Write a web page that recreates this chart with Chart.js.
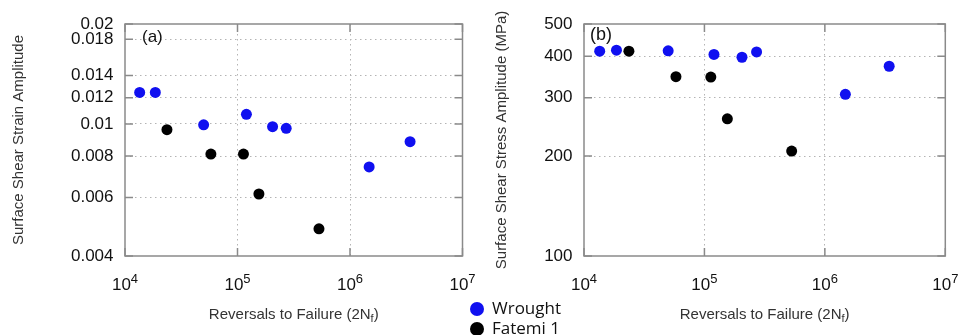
<!DOCTYPE html>
<html>
<head>
<meta charset="utf-8">
<script src="https://cdn.jsdelivr.net/npm/chart.js@4/dist/chart.umd.min.js"></script>
<style>
  html, body { margin: 0; padding: 0; background: #fff; }
  #wrap { position: relative; width: 960px; height: 335px; overflow: hidden; }
  .panel { position: absolute; top: 0; }
  .leg { position: absolute; left: 470px; font: 17px "Open Sans", Arial, sans-serif; color: #111; white-space: nowrap; }
  .leg i { display: inline-block; width: 14px; height: 14px; border-radius: 50%; vertical-align: middle; margin-right: 8px; }
</style>
</head>
<body>
<div id="wrap">
  <canvas id="strainChart" class="panel" style="left:0" width="480" height="335"></canvas>
  <canvas id="stressChart" class="panel" style="left:480px" width="480" height="335"></canvas>
  <div class="leg" style="top:296px"><i style="background:#1010f0"></i>Wrought</div>
  <div class="leg" style="top:316px"><i style="background:#000"></i>Fatemi 1</div>
</div>
<script>
// reversals to failure, same specimens in both panels
const cyclesWrought = [13500, 18600, 50000, 120000, 205000, 271000, 1480000, 3420000];
const cyclesFatemi = [23600, 58000, 113000, 155000, 530000];

// (a) surface shear strain amplitude
const strainWrought = [0.01244, 0.01244, 0.00994, 0.01069, 0.00981, 0.0097, 0.00742, 0.00884];
const strainFatemi = [0.00961, 0.00811, 0.00811, 0.00615, 0.00483];

// (b) surface shear stress amplitude, MPa
const stressWrought = [414, 417, 415, 405, 397, 412, 307, 373];
const stressFatemi = [414, 347, 346, 259, 207];

const xTicks = [1e4, 1e5, 1e6, 1e7];
const strainTicks = [0.004, 0.006, 0.008, 0.01, 0.012, 0.014, 0.018, 0.02];
const stressTicks = [100, 200, 300, 400, 500];

const FONT = '"Liberation Sans", Arial, sans-serif';
const BLUE = '#1010f0';

function toPoints(xs, ys) {
  return xs.map((x, i) => ({ x: x, y: ys[i] }));
}

function edgeColor(lo, hi) {
  return (c) => (c.tick && (c.tick.value === lo || c.tick.value === hi)) ? 'rgba(0,0,0,0)' : '#b4b4b4';
}

// frame, inner tick marks, x labels with exponents, x title with subscript, panel tag
const decorPlugin = {
  id: 'decor',
  beforeDatasetsDraw(chart) {
    const { ctx, chartArea: a, scales } = chart;
    ctx.save();
    ctx.strokeStyle = '#8a8a8a';
    ctx.lineWidth = 1.5;
    ctx.strokeRect(a.left, a.top, a.right - a.left, a.bottom - a.top);
    ctx.beginPath();
    scales.y.ticks.forEach(t => {
      const y = scales.y.getPixelForValue(t.value);
      ctx.moveTo(a.left, y); ctx.lineTo(a.left + 8, y);
      ctx.moveTo(a.right, y); ctx.lineTo(a.right - 8, y);
    });
    scales.x.ticks.forEach(t => {
      const x = scales.x.getPixelForValue(t.value);
      ctx.moveTo(x, a.top); ctx.lineTo(x, a.top + 8);
      ctx.moveTo(x, a.bottom); ctx.lineTo(x, a.bottom - 8);
    });
    ctx.stroke();
    ctx.restore();
  },
  afterDraw(chart) {
    const { ctx, chartArea: a, scales } = chart;
    const o = chart.options.plugins.decor;
    ctx.save();
    ctx.fillStyle = '#111';
    ctx.textAlign = 'left';
    ctx.textBaseline = 'alphabetic';
    scales.x.ticks.forEach(t => {
      const x = scales.x.getPixelForValue(t.value);
      const exp = String(Math.round(Math.log10(t.value)));
      ctx.font = '17px ' + FONT;
      const w1 = ctx.measureText('10').width;
      ctx.font = '13px ' + FONT;
      const w2 = ctx.measureText(exp).width;
      const x0 = x - (w1 + w2) / 2;
      ctx.font = '17px ' + FONT;
      ctx.fillText('10', x0, 289.5);
      ctx.font = '13px ' + FONT;
      ctx.fillText(exp, x0 + w1, 283);
    });

    // x title: Reversals to Failure (2Nf)
    ctx.fillStyle = '#333';
    const main = 'Reversals to Failure (2N';
    ctx.font = '15px ' + FONT;
    const wm = ctx.measureText(main).width;
    const wp = ctx.measureText(')').width;
    ctx.font = '11px ' + FONT;
    const ws = ctx.measureText('f').width;
    let tx = (a.left + a.right) / 2 - (wm + ws + wp) / 2;
    ctx.font = '15px ' + FONT;
    ctx.fillText(main, tx, 319);
    ctx.font = '11px ' + FONT;
    ctx.fillText('f', tx + wm, 322);
    ctx.font = '15px ' + FONT;
    ctx.fillText(')', tx + wm + ws, 319);

    // panel tag
    ctx.fillStyle = '#111';
    ctx.font = o.tagSize + 'px ' + FONT;
    ctx.textBaseline = 'middle';
    ctx.fillText(o.tag, a.left + o.tagDx, o.tagY);
    ctx.restore();
  }
};

function makeChart(id, cfg) {
  return new Chart(document.getElementById(id), {
    type: 'scatter',
    data: {
      datasets: [
        { label: 'Wrought', data: toPoints(cyclesWrought, cfg.wrought), backgroundColor: BLUE, borderWidth: 0, pointRadius: 5.5 },
        { label: 'Fatemi 1', data: toPoints(cyclesFatemi, cfg.fatemi), backgroundColor: '#000', borderWidth: 0, pointRadius: 5.5 }
      ]
    },
    options: {
      responsive: false,
      animation: false,
      layout: { padding: { left: 0, right: cfg.padRight, top: 24, bottom: 0 } },
      plugins: {
        legend: { display: false },
        tooltip: { enabled: false },
        decor: { tag: cfg.tag, tagDx: cfg.tagDx, tagY: cfg.tagY, tagSize: cfg.tagSize }
      },
      scales: {
        x: {
          type: 'logarithmic',
          min: 1e4,
          max: 1e7,
          afterBuildTicks: (s) => { s.ticks = xTicks.map(v => ({ value: v })); },
          afterFit: (s) => { s.height = 79; },
          ticks: { display: false },
          grid: { color: edgeColor(1e4, 1e7), drawTicks: false, lineWidth: 1 },
          border: { display: false, dash: [1.5, 3.5] }
        },
        y: {
          type: 'logarithmic',
          min: cfg.yTicks[0],
          max: cfg.yTicks[cfg.yTicks.length - 1],
          afterBuildTicks: (s) => { s.ticks = cfg.yTicks.map(v => ({ value: v })); },
          afterFit: (s) => { s.width = cfg.yWidth; },
          ticks: {
            autoSkip: false,
            padding: 11.5,
            color: '#111',
            font: { family: FONT, size: 17 },
            callback: (v) => String(v)
          },
          grid: { color: edgeColor(cfg.yTicks[0], cfg.yTicks[cfg.yTicks.length - 1]), drawTicks: false, lineWidth: 1 },
          border: { display: false, dash: [1.5, 3.5] },
          title: {
            display: true,
            text: cfg.yTitle,
            color: '#333',
            font: { family: FONT, size: 15 },
            padding: { top: cfg.titlePad, bottom: 0 }
          }
        }
      }
    },
    plugins: [decorPlugin]
  });
}

makeChart('strainChart', {
  wrought: strainWrought, fatemi: strainFatemi, yTicks: strainTicks,
  yTitle: 'Surface Shear Strain Amplitude', yWidth: 125, padRight: 17.5, titlePad: 10,
  tag: '(a)', tagDx: 17, tagY: 37, tagSize: 17
});
makeChart('stressChart', {
  wrought: stressWrought, fatemi: stressFatemi, yTicks: stressTicks,
  yTitle: 'Surface Shear Stress Amplitude (MPa)', yWidth: 104, padRight: 14.7, titlePad: 12.7,
  tag: '(b)', tagDx: 6, tagY: 35, tagSize: 18
});
</script>
</body>
</html>
